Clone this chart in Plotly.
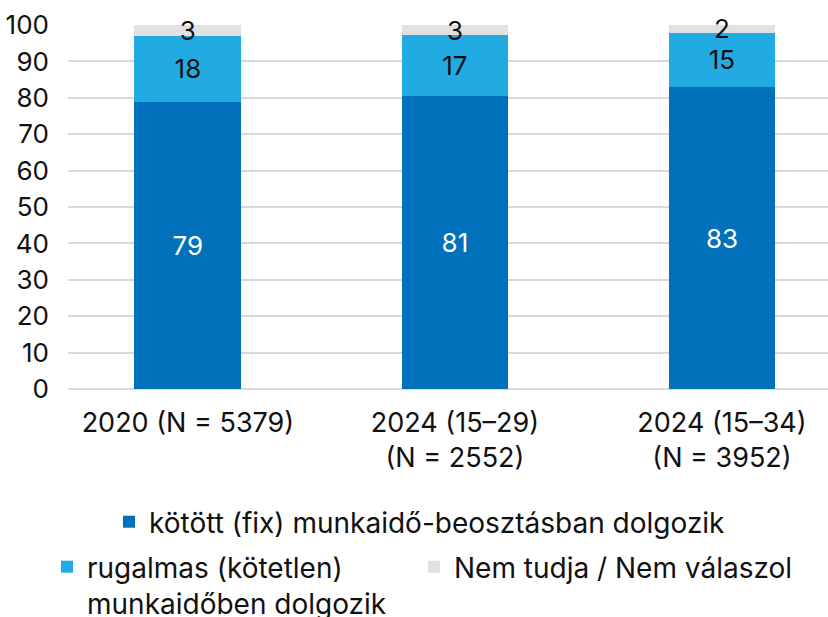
import plotly.graph_objects as go

categories = ["2020 (N = 5379)", "2024 (15–29)<br>(N = 2552)", "2024 (15–34)<br>(N = 3952)"]
fixed = [78.9, 80.6, 82.9]
flexible = [18.2, 16.6, 15.0]
unknown = [2.9, 2.8, 2.1]

names = [
    "kötött (fix) munkaidő-beosztásban dolgozik",
    "rugalmas (kötetlen)<br>munkaidőben dolgozik",
    "Nem tudja / Nem válaszol",
]
colors = ["#0071BA", "#22AAE2", "#E1E1E1"]
textcolors = ["#FFFFFF", "#111111", "#111111"]
series = [fixed, flexible, unknown]
legend_ids = ["legend", "legend2", "legend3"]

FONT = "Inter"
fig = go.Figure()
for vals, name, col, tc, lg in zip(series, names, colors, textcolors, legend_ids):
    fig.add_trace(go.Bar(
        x=categories, y=vals, name=name,
        marker=dict(color=col, line=dict(width=0)),
        width=0.4,
        text=vals, texttemplate="%{y:.0f}",
        textposition="inside", insidetextanchor="middle", textangle=0,
        constraintext="none", cliponaxis=False,
        insidetextfont=dict(color=tc, size=26, family=FONT),
        legend=lg,
    ))

legend_common = dict(
    font=dict(size=28, family=FONT, color="#111111"),
    bgcolor="rgba(0,0,0,0)", xref="container", yref="container",
    xanchor="left", yanchor="top", orientation="h", valign="top",
    tracegroupgap=0, itemclick=False,
)

fig.update_layout(
    barmode="stack",
    width=828, height=617,
    margin=dict(l=68, r=0, t=25, b=228),
    plot_bgcolor="white", paper_bgcolor="white",
    font=dict(family=FONT, size=26, color="#111111"),
    xaxis=dict(range=[-0.449, 2.397], showgrid=False, showline=False, zeroline=False,
               ticks="", ticklabelstandoff=15,
               tickfont=dict(size=27, family=FONT, color="#111111")),
    yaxis=dict(range=[0, 100.001], tick0=0, dtick=10, showgrid=True, gridcolor="#D9D9D9",
               gridwidth=2, zeroline=True, zerolinecolor="#D9D9D9", zerolinewidth=2,
               showline=False, ticks="", ticklabelstandoff=18,
               tickfont=dict(size=26, family=FONT, color="#111111")),
    legend=dict(x=109/828, y=1 - 497/617, **legend_common),
    legend2=dict(x=47/828, y=1 - 542/617, **legend_common),
    legend3=dict(x=414/828, y=1 - 542/617, **legend_common),
    showlegend=True,
)

fig.write_html("out.html", config={"displayModeBar": False},
               post_script="document.body.style.margin='0';")
